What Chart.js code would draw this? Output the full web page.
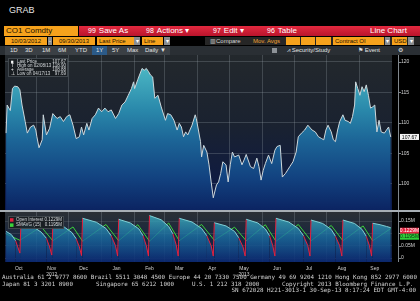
<!DOCTYPE html>
<html>
<head>
<meta charset="utf-8">
<title>CO1 Comdty - Line Chart</title>
<script src="https://cdn.jsdelivr.net/npm/chart.js@4.4.0/dist/chart.umd.min.js"></script>
<style>
  html, body { margin: 0; padding: 0; background: #000; }
  #screen { position: relative; width: 420px; height: 301px; overflow: hidden; background: #000;
            font-family: "Liberation Sans", Arial, sans-serif; }
  .abs { position: absolute; white-space: nowrap; }
  .or { background: #f6a21c; color: #1e1200; }
  .dd { background: #8a8d90; color: #fff; text-align: center; }
  .row2 { top: 37px; height: 8px; font-size: 6px; line-height: 8px; }
  .row3 { top: 46px; height: 9px; font-size: 6px; line-height: 9px; color: #e2e2e2; }
  .red { color: #fff; font-size: 8px; line-height: 10px; top: 26px; }
  .num { font-size: 7px; margin-right: 3px; }
  .foot { font-family: "DejaVu Sans Mono", monospace; font-size: 5.9px; line-height: 6px; color: #d2d2d2; }
  canvas { position: absolute; left: 0; }
</style>
</head>
<body>
<div id="screen">
  <div class="abs" style="left:9px;top:5px;font-size:9px;color:#e6e6e6;">GRAB</div>

  <!-- row 1 -->
  <div class="abs or" style="left:4px;top:26px;width:72px;height:10px;font-size:8px;line-height:10px;padding-left:2px;">CO1 Comdty</div>
  <div class="abs" style="left:79px;top:26px;width:341px;height:10px;background:linear-gradient(#e3293f,#b9142c);"></div>
  <div class="abs red" style="left:88px;"><span class="num">99</span>Save As</div>
  <div class="abs red" style="left:146px;"><span class="num">98</span>Actions ▾</div>
  <div class="abs red" style="left:213px;"><span class="num">97</span>Edit ▾</div>
  <div class="abs red" style="left:267px;"><span class="num">96</span>Table</div>
  <div class="abs red" style="left:370px;">Line Chart</div>

  <!-- row 2 -->
  <div class="abs or row2" style="left:5px;width:42px;text-align:center;">10/03/2012</div>
  <div class="abs dd row2" style="left:48px;width:4px;">-</div>
  <div class="abs or row2" style="left:53px;width:42px;text-align:center;">09/30/2013</div>
  <div class="abs or row2" style="left:97px;width:35px;padding-left:2px;">Last Price</div>
  <div class="abs dd row2" style="left:134px;width:6px;">▾</div>
  <div class="abs or row2" style="left:142px;width:19px;padding-left:2px;">Line</div>
  <div class="abs dd row2" style="left:164px;width:6px;">▾</div>
  <div class="abs row2" style="left:205px;width:215px;background:#262626;"></div>
  <div class="abs row2" style="left:210px;color:#d6d6d6;">▥Compare</div>
  <div class="abs row2" style="left:253px;color:#f0a232;">Mov. Avgs</div>
  <div class="abs or row2" style="left:286px;width:14px;"></div>
  <div class="abs or row2" style="left:301px;width:14px;"></div>
  <div class="abs or row2" style="left:316px;width:15px;"></div>
  <div class="abs or row2" style="left:333px;width:49px;padding-left:2px;">Contract OI</div>
  <div class="abs dd row2" style="left:385px;width:5px;">▾</div>
  <div class="abs or row2" style="left:392px;width:13px;padding-left:2px;">USD</div>
  <div class="abs dd row2" style="left:408px;width:6px;">▾</div>

  <!-- row 3 -->
  <div class="abs row3" style="left:0;width:420px;background:#2a2f34;"></div>
  <div class="abs row3" style="left:5px;width:165px;background:#3b4045;"></div>
  <div class="abs row3" style="left:92px;width:15px;background:#2b5a88;"></div>
  <div class="abs row3" style="left:10px;">1D</div>
  <div class="abs row3" style="left:25px;">3D</div>
  <div class="abs row3" style="left:42px;">1M</div>
  <div class="abs row3" style="left:58px;">6M</div>
  <div class="abs row3" style="left:75px;">YTD</div>
  <div class="abs row3" style="left:96px;">1Y</div>
  <div class="abs row3" style="left:112px;">5Y</div>
  <div class="abs row3" style="left:127px;">Max</div>
  <div class="abs row3" style="left:145px;">Daily ▼</div>
  <div class="abs" style="left:272px;top:48px;width:5px;height:5px;background:#8d9297;"></div>
  <div class="abs row3" style="left:287px;">⩘ Security/Study</div>
  <div class="abs row3" style="left:358px;">⚑ Event</div>
  <div class="abs row3" style="left:398px;">⚙</div>

  <canvas id="priceChart" width="420" height="155" style="top:55px;"></canvas>
  <div class="abs" style="left:0;top:210px;width:420px;height:2px;background:#a7aeb4;"></div>
  <canvas id="oiChart" width="420" height="64" style="top:212px;"></canvas>

  <!-- footer -->
  <div class="abs foot" style="left:2px;top:274px;">Australia 61 2 9777 8600 Brazil 5511 3048 4500 Europe 44 20 7330 7500 Germany 49 69 9204 1210 Hong Kong 852 2977 6000</div>
  <div class="abs foot" style="left:2px;top:281px;">Japan 81 3 3201 8900</div>
  <div class="abs foot" style="left:96px;top:281px;">Singapore 65 6212 1000</div>
  <div class="abs foot" style="left:192px;top:281px;">U.S. 1 212 318 2000</div>
  <div class="abs foot" style="left:282px;top:281px;">Copyright 2013 Bloomberg Finance L.P.</div>
  <div class="abs foot" style="right:4px;top:287px;">SN 672028 H221-3013-1 30-Sep-13  8:17:24 EDT  GMT-4:00</div>
</div>

<script>
// days counted from 10/03/2012
const priceDays = [
  0, 1, 4, 6, 8, 11, 13, 15, 18, 20,
  23, 26, 28, 29, 31, 34, 35, 38, 41, 44,
  48, 51, 54, 57, 60, 63, 66, 69, 71, 73,
  76, 78, 81, 84, 87, 90, 93, 96, 99, 103,
  106, 109, 112, 115, 118, 120, 121, 124, 128, 130,
  132, 134, 136, 138, 140, 143, 146, 150, 152, 155,
  158, 161, 163, 165, 167, 169, 171, 175, 178, 179,
  183, 184, 186, 189, 191, 193, 195, 198, 200, 202,
  204, 207, 209, 211, 213, 215, 219, 222, 224, 226,
  230, 233, 236, 238, 240, 242, 244, 247, 250, 253,
  255, 258, 260, 263, 267, 270, 273, 275, 278, 281,
  284, 288, 291, 294, 297, 299, 301, 303, 306, 308,
  310, 312, 314, 317, 319, 322, 324, 326, 328, 329,
  331, 333, 335, 337, 339, 341, 343, 345, 347, 349,
  351, 353, 356, 358, 360, 362
];
const prices = [
  108.3, 112.9, 112.0, 115.6, 116.0, 115.9, 115.4, 112.9, 110.2, 108.3,
  109.3, 109.6, 108.8, 107.7, 105.9, 107.2, 111.3, 108.0, 109.1, 111.5,
  110.7, 111.0, 110.2, 111.0, 111.3, 109.6, 107.4, 107.7, 109.3, 108.0,
  109.9, 108.8, 110.7, 111.3, 112.4, 111.8, 112.4, 111.8, 112.1, 110.7,
  111.5, 112.9, 113.4, 114.5, 115.6, 116.7, 115.6, 117.1, 118.9, 118.6,
  118.9, 118.4, 117.8, 117.5, 114.0, 114.5, 112.6, 110.4, 111.5, 111.3,
  110.4, 108.8, 109.9, 109.3, 107.7, 108.5, 108.0, 109.6, 111.3, 110.7,
  106.9, 104.4, 106.3, 105.2, 103.1, 100.3, 97.7, 99.8, 100.3, 101.7,
  103.6, 103.1, 100.3, 103.1, 105.2, 104.4, 104.7, 103.1, 103.9, 104.8,
  102.8, 102.5, 104.2, 102.8, 100.6, 102.2, 103.3, 104.7, 103.3, 105.5,
  106.1, 106.3, 101.1, 101.7, 102.8, 103.6, 105.2, 107.7, 108.3, 108.8,
  109.6, 108.8, 108.5, 107.7, 107.4, 107.2, 108.8, 109.6, 108.5, 107.2,
  106.9, 108.8, 110.2, 111.3, 110.4, 110.2, 109.9, 111.0, 112.9, 116.7,
  115.6, 114.5, 115.9, 115.1, 116.2, 114.5, 112.4, 112.6, 112.9, 108.5,
  110.4, 108.5, 108.3, 108.8, 109.3, 107.67
];

// open interest (millions of contracts)
const oiDays = [
  0, 5, 9, 11, 13,
  14, 25, 33, 38, 41, 43,
  44, 55, 62, 66, 69, 71,
  72, 85, 94, 99, 103, 105,
  106, 117, 125, 129, 132, 134,
  135, 146, 153, 157, 160, 162,
  163, 175, 184, 189, 193, 195,
  196, 207, 215, 219, 223, 225,
  226, 237, 244, 248, 251, 253,
  254, 266, 275, 280, 284, 286,
  287, 298, 306, 310, 314, 316,
  317, 328, 335, 339, 342, 344,
  345, 352, 358, 362
];
const oiValues = [
  0.108, 0.095, 0.07, 0.045, 0.02,
  0.141, 0.128, 0.105, 0.08, 0.045, 0.012,
  0.138, 0.125, 0.103, 0.078, 0.045, 0.01,
  0.161, 0.145, 0.12, 0.09, 0.05, 0.008,
  0.157, 0.142, 0.118, 0.09, 0.05, 0.008,
  0.172, 0.155, 0.128, 0.098, 0.055, 0.008,
  0.161, 0.146, 0.12, 0.09, 0.05, 0.008,
  0.143, 0.13, 0.108, 0.082, 0.045, 0.008,
  0.157, 0.142, 0.118, 0.09, 0.05, 0.008,
  0.161, 0.146, 0.12, 0.09, 0.05, 0.008,
  0.154, 0.14, 0.116, 0.088, 0.05, 0.008,
  0.154, 0.14, 0.116, 0.088, 0.05, 0.008,
  0.141, 0.135, 0.128, 0.1229
];
const smaDays = [0, 13, 33, 44, 63, 72, 94, 106, 124, 135, 153, 163, 184,
                 196, 215, 226, 244, 254, 275, 287, 306, 317, 336, 345, 362];
const smaValues = [0.098, 0.072, 0.127, 0.07, 0.126, 0.068, 0.136, 0.07, 0.135, 0.068, 0.142, 0.07, 0.136,
                   0.072, 0.125, 0.07, 0.135, 0.068, 0.136, 0.07, 0.132, 0.07, 0.13, 0.07, 0.1195];

const monthStarts = [29, 59, 90, 121, 149, 180, 210, 241, 271, 302, 333];
const monthMids = [12, 43, 73, 104, 135, 163, 194, 224, 255, 285, 316, 347];
const monthLabels = [['Oct'], ['Nov', '2012'], ['Dec'], ['Jan'], ['Feb'], ['Mar'],
                     ['Apr'], ['May', '2013'], ['Jun'], ['Jul'], ['Aug'], ['Sep']];
const priceTicks = [100, 105, 110, 115, 120];
const oiTicks = [0, 0.05, 0.10, 0.15];

const priceLegendLabels = ['Last Price', 'High on 02/08/13', 'Average', 'Low on 04/17/13'];
const priceLegendValues = ['107.67', '118.90', '108.88', '97.69'];
const oiLegendLabels = ['Open Interest', 'SMAVG (15)'];
const oiLegendValues = ['0.1229M', '0.1195M'];

const X_MIN = -1;
const X_MAX = 363.2;
const GRID = 'rgba(150,160,168,0.28)';
const TICK_FONT = { family: 'Liberation Sans', size: 5 };

// Gradient helper for area fills
function verticalGradient(stops) {
  return function (context) {
    const { ctx, chartArea } = context.chart;
    if (!chartArea) return null;
    const g = ctx.createLinearGradient(0, chartArea.top, 0, chartArea.bottom);
    stops.forEach(s => g.addColorStop(s[0], s[1]));
    return g;
  };
}

// Fill chart area background
const bgPlugin = {
  id: 'panelBackground',
  beforeDraw(chart, args, opts) {
    const { ctx, chartArea: a } = chart;
    const g = ctx.createLinearGradient(0, a.top, 0, a.bottom);
    opts.stops.forEach(s => g.addColorStop(s[0], s[1]));
    ctx.save();
    ctx.fillStyle = g;
    ctx.fillRect(a.left, a.top, a.right - a.left, a.bottom - a.top);
    ctx.restore();
  }
};

// Axis line with small dashes on the right side
const rightAxisLine = {
  id: 'rightAxisLine',
  afterDraw(chart) {
    const { ctx, chartArea: a } = chart;
    const y = chart.scales.y;
    const x0 = a.right + 6;
    ctx.save();
    ctx.strokeStyle = '#80878d';
    ctx.lineWidth = 1;
    ctx.beginPath();
    ctx.moveTo(x0 + 0.5, a.top);
    ctx.lineTo(x0 + 0.5, a.bottom);
    y.ticks.forEach(t => {
      const py = Math.round(y.getPixelForValue(t.value)) + 0.5;
      ctx.moveTo(x0, py);
      ctx.lineTo(x0 + 3, py);
    });
    ctx.stroke();
    ctx.restore();
  }
};

function legendBox(ctx, x, y, w, h) {
  ctx.fillStyle = 'rgba(24,28,32,0.88)';
  ctx.fillRect(x, y, w, h);
  ctx.strokeStyle = '#40474d';
  ctx.lineWidth = 1;
  ctx.strokeRect(x + 0.5, y + 0.5, w - 1, h - 1);
}

function valueTag(ctx, x, top, text, bg, fg) {
  ctx.fillStyle = bg;
  ctx.fillRect(x, top, 19, 6);
  ctx.fillStyle = fg;
  ctx.font = '5px "Liberation Sans"';
  ctx.textAlign = 'center';
  ctx.textBaseline = 'middle';
  ctx.fillText(text, x + 9.5, top + 3.3);
}

const priceOverlay = {
  id: 'priceOverlay',
  afterDraw(chart) {
    const { ctx, chartArea: a } = chart;
    ctx.save();
    legendBox(ctx, 8, 3, 60, 19);
    const icons = ['■', 'T', '+', '⊥'];
    ctx.font = '4.5px "Liberation Sans"';
    ctx.textBaseline = 'middle';
    priceLegendLabels.forEach((label, i) => {
      const ry = 7 + i * 3.8;
      ctx.fillStyle = '#ffffff';
      ctx.textAlign = 'left';
      ctx.fillText(icons[i], 11, ry);
      ctx.fillStyle = '#d4d8db';
      ctx.fillText(label, 17, ry);
      ctx.textAlign = 'right';
      ctx.fillText(priceLegendValues[i], 66, ry);
    });
    const yLast = chart.scales.y.getPixelForValue(prices[prices.length - 1]);
    valueTag(ctx, a.right + 8, yLast - 3, priceLegendValues[0], '#f2f2f2', '#000');
    ctx.restore();
  }
};

const oiOverlay = {
  id: 'oiOverlay',
  afterDraw(chart) {
    const { ctx, chartArea: a } = chart;
    ctx.save();
    legendBox(ctx, 8, 4, 56, 13);
    const swatches = ['#e3213f', '#3bd23b'];
    ctx.font = '4.5px "Liberation Sans"';
    ctx.textBaseline = 'middle';
    oiLegendLabels.forEach((label, i) => {
      const ry = 8 + i * 5.2;
      ctx.fillStyle = swatches[i];
      ctx.fillRect(10, ry - 1.8, 3.5, 3.5);
      ctx.fillStyle = '#d4d8db';
      ctx.textAlign = 'left';
      ctx.fillText(label, 16, ry);
      ctx.textAlign = 'right';
      ctx.fillText(oiLegendValues[i], 62, ry);
    });
    const yOi = chart.scales.y.getPixelForValue(oiValues[oiValues.length - 1]);
    valueTag(ctx, a.right + 8, yOi, oiLegendValues[0], '#e3213f', '#fff');
    valueTag(ctx, a.right + 8, yOi + 6, oiLegendValues[1], '#2fcf3a', '#0a2a0a');
    ctx.restore();
  }
};

function noPad(s) {
  s.paddingTop = 0;
  s.paddingBottom = 0;
  s.paddingLeft = 0;
  s.paddingRight = 0;
}

function gridAxis() {
  return {
    type: 'linear',
    min: X_MIN,
    max: X_MAX,
    z: 1,
    afterBuildTicks: s => { s.ticks = monthStarts.map(v => ({ value: v })); },
    ticks: { display: false },
    grid: { color: GRID, drawTicks: false },
    border: { display: false },
    afterFit: s => { s.height = 0; noPad(s); }
  };
}

// Price panel
new Chart(document.getElementById('priceChart'), {
  type: 'line',
  data: {
    datasets: [{
      label: 'Last Price',
      data: priceDays.map((d, i) => ({ x: d, y: prices[i] })),
      borderColor: '#cdd7db',
      borderWidth: 1,
      pointRadius: 0,
      tension: 0,
      fill: 'start',
      backgroundColor: verticalGradient([
        [0, '#5fc4c9'], [0.12, '#46b0c0'], [0.35, '#2a89ab'],
        [0.55, '#1c6597'], [0.8, '#12417f'], [1, '#0b2462']
      ])
    }]
  },
  options: {
    responsive: false,
    animation: false,
    events: [],
    layout: { padding: { left: 5, right: 0, top: 0, bottom: 0 } },
    plugins: {
      legend: { display: false },
      tooltip: { enabled: false },
      panelBackground: { stops: [[0, '#23282c'], [0.45, '#1a2230'], [0.75, '#111c3e'], [1, '#0b1a50']] }
    },
    scales: {
      x: gridAxis(),
      y: {
        position: 'right',
        min: 95.7,
        max: 121.1,
        z: 1,
        afterBuildTicks: s => { s.ticks = priceTicks.map(v => ({ value: v })); },
        ticks: { color: '#d2d2d2', font: TICK_FONT, padding: 9, callback: v => String(v) },
        grid: { color: GRID, drawTicks: false },
        border: { display: false },
        afterFit: s => { s.width = 28; noPad(s); }
      }
    }
  },
  plugins: [bgPlugin, rightAxisLine, priceOverlay]
});

// Open interest panel
new Chart(document.getElementById('oiChart'), {
  type: 'line',
  data: {
    datasets: [
      {
        label: 'Open Interest',
        data: oiDays.map((d, i) => ({ x: d, y: oiValues[i] })),
        order: 1,
        borderColor: '#7fd0d6',
        borderWidth: 1,
        pointRadius: 0,
        tension: 0,
        fill: 'start',
        backgroundColor: verticalGradient([
          [0, 'rgba(66,184,194,0.82)'], [0.5, 'rgba(26,108,160,0.82)'], [1, 'rgba(12,40,110,0.9)']
        ]),
        segment: {
          borderColor: c => Math.min(c.p0.parsed.y, c.p1.parsed.y) < 0.06 ? '#e3213f' : '#7fd0d6'
        }
      },
      {
        label: 'SMAVG (15)',
        data: smaDays.map((d, i) => ({ x: d, y: smaValues[i] })),
        order: 2,
        borderColor: '#3bd23b',
        borderWidth: 1,
        pointRadius: 0,
        tension: 0,
        fill: false
      }
    ]
  },
  options: {
    responsive: false,
    animation: false,
    events: [],
    layout: { padding: { left: 5, right: 0, top: 0, bottom: 0 } },
    plugins: {
      legend: { display: false },
      tooltip: { enabled: false },
      panelBackground: { stops: [[0, '#2b3035'], [0.5, '#18263f'], [1, '#0c1c50']] }
    },
    scales: {
      x: gridAxis(),
      x2: {
        type: 'linear',
        position: 'bottom',
        min: X_MIN,
        max: X_MAX,
        afterBuildTicks: s => { s.ticks = monthMids.map(v => ({ value: v })); },
        ticks: {
          color: '#d2d2d2',
          font: { family: 'Liberation Sans', size: 5, lineHeight: 1.2 },
          padding: -4,
          autoSkip: false,
          maxRotation: 0,
          callback: (v, i) => monthLabels[i]
        },
        grid: { display: false },
        border: { display: false },
        afterFit: s => { s.height = 14; noPad(s); }
      },
      y: {
        position: 'right',
        min: -0.016,
        max: 0.1865,
        z: 1,
        afterBuildTicks: s => { s.ticks = oiTicks.map(v => ({ value: v })); },
        ticks: {
          color: '#d2d2d2',
          font: TICK_FONT,
          padding: 9,
          callback: v => v === 0 ? '0' : v.toFixed(2) + 'M'
        },
        grid: { color: 'rgba(150,160,168,0.18)', drawTicks: false },
        border: { display: false },
        afterFit: s => { s.width = 28; noPad(s); }
      }
    }
  },
  plugins: [bgPlugin, rightAxisLine, oiOverlay]
});
</script>
</body>
</html>
